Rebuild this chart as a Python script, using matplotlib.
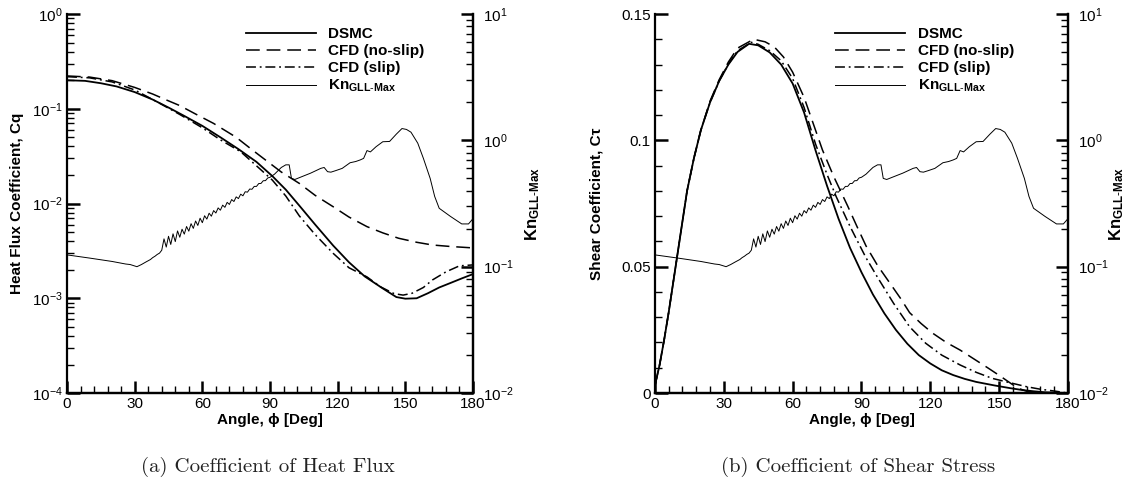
import matplotlib
matplotlib.use('Agg')
import matplotlib.pyplot as plt
from matplotlib.ticker import MultipleLocator, LogLocator, FixedLocator, FixedFormatter

plt.rcParams['font.family'] = ['Liberation Sans', 'DejaVu Sans']
plt.rcParams['mathtext.fontset'] = 'custom'
plt.rcParams['mathtext.rm'] = 'Liberation Sans'
plt.rcParams['mathtext.bf'] = 'Liberation Sans:bold'
plt.rcParams['mathtext.it'] = 'Liberation Sans:italic'

# ---- heat flux coefficient (left) ----
cq_dsmc_ang = [0, 8, 15, 22, 30, 38, 45, 52, 60, 68, 76, 84, 91, 97, 103, 110, 118, 125, 132,
               140, 146, 150, 155, 160, 165, 170, 175, 180]
cq_dsmc = [0.200, 0.197, 0.186, 0.172, 0.150, 0.125, 0.103, 0.084, 0.066, 0.050, 0.0375, 0.0275,
           0.0195, 0.0140, 0.0095, 0.0060, 0.0036, 0.0024, 0.0017, 0.00127, 0.00103, 0.00099,
           0.00100, 0.00113, 0.00130, 0.00145, 0.00162, 0.00180]

cq_noslip_ang = [0, 10, 20, 30, 38, 44, 50, 57, 65, 75, 82, 88, 95, 103, 110, 118, 125, 133,
                 140, 147, 155, 162, 170, 175, 180]
cq_noslip = [0.222, 0.216, 0.198, 0.168, 0.143, 0.124, 0.108, 0.088, 0.070, 0.050, 0.037, 0.0288,
             0.0215, 0.0163, 0.0122, 0.00925, 0.0072, 0.0057, 0.0049, 0.0043, 0.0039, 0.00365,
             0.00352, 0.00346, 0.0034]

cq_slip_ang = [0, 10, 20, 30, 40, 50, 60, 68, 77, 84, 91, 97, 103, 110, 118, 125, 133, 139, 145,
               149, 153, 158, 162, 168, 174, 180]
cq_slip = [0.218, 0.212, 0.192, 0.158, 0.118, 0.087, 0.063, 0.047, 0.0352, 0.0250, 0.0177,
           0.0120, 0.0074, 0.0047, 0.00298, 0.0021, 0.00168, 0.00132, 0.00112, 0.00108, 0.00113,
           0.00130, 0.00156, 0.00190, 0.00220, 0.00225]

# ---- shear coefficient (right) ----
ct_dsmc_ang = [0, 2, 4, 6, 8, 10, 12, 14, 17, 20, 24, 28, 32, 36, 41, 45, 50, 55, 60, 65, 70, 75,
               80, 85, 90, 95, 100, 105, 110, 115, 120, 125, 130, 135, 140, 148, 155, 160, 165,
               170, 180]
ct_dsmc = [0.003, 0.011, 0.021, 0.032, 0.044, 0.056, 0.068, 0.080, 0.093, 0.104, 0.115, 0.1235,
           0.1300, 0.1350, 0.1382, 0.1376, 0.1348, 0.1300, 0.1225, 0.1110, 0.0960, 0.0820,
           0.0690, 0.0575, 0.0478, 0.0390, 0.0315, 0.0250, 0.0195, 0.0150, 0.0117, 0.0090,
           0.0071, 0.0056, 0.0044, 0.0030, 0.0019, 0.0012, 0.0007, 0.0003, 0.0]

ct_noslip_ang = [0, 2, 4, 6, 8, 10, 12, 14, 17, 20, 24, 28, 32, 36, 43, 48, 52, 56, 60, 65, 70, 73,
                 78, 84, 88, 92, 97, 102, 107, 111, 116, 121, 127, 133, 139, 145, 150, 154, 158,
                 162, 166, 170, 180]
ct_noslip = [0.003, 0.011, 0.021, 0.032, 0.044, 0.056, 0.068, 0.080, 0.093, 0.104, 0.1155, 0.124,
             0.1310, 0.1365, 0.1400, 0.1390, 0.1370, 0.1330, 0.1270, 0.1170, 0.1040, 0.0962,
             0.0855, 0.0740, 0.0660, 0.0582, 0.0505, 0.0440, 0.0375, 0.0318, 0.0275, 0.0237,
             0.0200, 0.0170, 0.0135, 0.0100, 0.0070, 0.0045, 0.0020, 0.0007, 0.0002, 0.0, 0.0]

ct_slip_ang = [0, 2, 4, 6, 8, 10, 12, 14, 17, 20, 24, 28, 32, 36, 42, 45, 50, 55, 60, 65, 70, 75,
               79, 85, 88, 92, 97, 104, 111, 118, 125, 133, 140, 147, 156, 162, 168, 174, 180]
ct_slip = [0.003, 0.011, 0.021, 0.032, 0.044, 0.056, 0.068, 0.080, 0.093, 0.104, 0.115, 0.1235,
           0.1302, 0.1355, 0.1388, 0.1380, 0.1355, 0.1315, 0.1245, 0.1130, 0.0985, 0.0865,
           0.0777, 0.0660, 0.0606, 0.0535, 0.0458, 0.0355, 0.0262, 0.0197, 0.0150, 0.0111,
           0.0082, 0.0058, 0.0038, 0.0025, 0.0015, 0.0008, 0.0]

# ---- max GLL Knudsen number (same on both panels) ----
kn_ang = [0, 10, 20, 26, 28, 31, 33, 35, 37, 38, 39, 40, 41,
          42, 43, 44, 45, 46, 47, 48, 49, 50, 51, 52, 53, 54, 55, 56, 57, 58, 59, 60, 61, 62, 63,
          64, 65, 66, 67, 68, 69, 70, 71, 72, 73, 74, 75, 76, 77, 78, 79, 80, 81, 82, 83, 84, 85,
          86, 87, 88, 89, 90,
          92, 95, 97, 98.5, 99.5, 101, 104, 108, 112.5, 114, 115.5, 117, 119, 122, 125.5, 128,
          130, 131.5, 133, 134.5, 137, 140, 143, 146, 148.5, 150.5, 152.5, 155.5, 158, 161, 163,
          165, 170, 175, 178, 180]
kn_max = [0.124, 0.117, 0.110, 0.105, 0.104, 0.100, 0.104, 0.109, 0.114, 0.118, 0.121, 0.125, 0.128,
          0.135, 0.166, 0.143, 0.174, 0.150, 0.182, 0.158, 0.192, 0.171, 0.198, 0.181, 0.208, 0.191,
          0.219, 0.201, 0.230, 0.212, 0.242, 0.223, 0.253, 0.238, 0.265, 0.251, 0.278, 0.266, 0.292,
          0.280, 0.307, 0.295, 0.323, 0.311, 0.340, 0.328, 0.357, 0.346, 0.375, 0.364, 0.392, 0.389,
          0.412, 0.410, 0.432, 0.432, 0.455, 0.456, 0.479, 0.480, 0.504, 0.510,
          0.54, 0.61, 0.64, 0.64, 0.50, 0.49, 0.515, 0.55, 0.60, 0.61, 0.565, 0.56, 0.575, 0.60,
          0.665, 0.68, 0.70, 0.72, 0.83, 0.81, 0.89, 0.975, 0.98, 1.12, 1.24, 1.22, 1.16, 0.95,
          0.72, 0.50, 0.36, 0.29, 0.25, 0.218, 0.218, 0.24]

kn_label = r'$\mathbf{Kn}_{\mathbf{GLL\text{-}Max}}$'
leg_labels = ['DSMC', 'CFD (no-slip)', 'CFD (slip)', kn_label]

dash = (9, 4.5)
dashdot = (6.5, 2.5, 1.2, 2.5)

fig = plt.figure(figsize=(11.3, 4.95), dpi=100)
axL = fig.add_axes([0.0593, 0.206, 0.3593, 0.7657])
axR = fig.add_axes([0.5796, 0.206, 0.3655, 0.7657])


def style(ax, ax2):
    ax.set_xlim(0, 180)
    ax.xaxis.set_major_locator(MultipleLocator(30))
    ax.xaxis.set_minor_locator(MultipleLocator(6))
    for a in (ax, ax2):
        a.spines['top'].set_visible(False)
        for s in a.spines.values():
            s.set_linewidth(1.6)
        a.tick_params(which='major', direction='in', length=9, width=1.8, labelsize=11, pad=3)
        a.tick_params(which='minor', direction='in', length=5, width=1.0)
    ax2.tick_params(axis='y', which='major', pad=7)
    ax.tick_params(axis='y', right=False, which='both')
    ax2.spines['left'].set_visible(False)
    ax2.set_yscale('log')
    ax2.set_ylim(1e-2, 1e1)
    ax2.yaxis.set_minor_locator(LogLocator(subs=range(2, 10)))
    ax.set_xlabel('Angle, ϕ [Deg]', fontsize=11, fontweight='bold', labelpad=1)


# left panel
axL.set_yscale('log')
axL.set_ylim(1e-4, 1e0)
axL.yaxis.set_minor_locator(LogLocator(subs=range(2, 10)))
axL2 = axL.twinx()
style(axL, axL2)
l1, = axL.plot(cq_dsmc_ang, cq_dsmc, color='black', lw=1.3)
l2, = axL.plot(cq_noslip_ang, cq_noslip, color='black', lw=1.1, dashes=dash)
l3, = axL.plot(cq_slip_ang, cq_slip, color='black', lw=1.1, dashes=dashdot)
l4, = axL2.plot(kn_ang, kn_max, color='black', lw=0.7)
axL.set_ylabel('Heat Flux Coefficient, Cq', fontsize=11, fontweight='bold')
axL.yaxis.set_label_coords(-0.105, 0.5)
axL2.set_ylabel(kn_label, fontsize=12)
axL2.yaxis.set_label_coords(1.125, 0.5)
axL2.legend([l1, l2, l3, l4], leg_labels, loc='upper left', bbox_to_anchor=(0.44, 0.966),
            frameon=False, handlelength=4.6, handletextpad=0.8, labelspacing=0.2,
            borderpad=0, borderaxespad=0, prop={'weight': 'bold', 'size': 11})

# right panel
axR.set_ylim(0, 0.15)
axR.yaxis.set_major_locator(FixedLocator([0, 0.05, 0.1, 0.15]))
axR.yaxis.set_major_formatter(FixedFormatter(['0', '0.05', '0.1', '0.15']))
axR.yaxis.set_minor_locator(MultipleLocator(0.01))
axR2 = axR.twinx()
style(axR, axR2)
r1, = axR.plot(ct_dsmc_ang, ct_dsmc, color='black', lw=1.3)
r2, = axR.plot(ct_noslip_ang, ct_noslip, color='black', lw=1.1, dashes=dash)
r3, = axR.plot(ct_slip_ang, ct_slip, color='black', lw=1.1, dashes=dashdot)
r4, = axR2.plot(kn_ang, kn_max, color='black', lw=0.7)
axR.set_ylabel('Shear Coefficient, Cτ', fontsize=11, fontweight='bold')
axR.yaxis.set_label_coords(-0.125, 0.5)
axR2.set_ylabel(kn_label, fontsize=12)
axR2.yaxis.set_label_coords(1.095, 0.5)
axR2.legend([r1, r2, r3, r4], leg_labels, loc='upper left', bbox_to_anchor=(0.436, 0.966),
            frameon=False, handlelength=4.6, handletextpad=0.8, labelspacing=0.2,
            borderpad=0, borderaxespad=0, prop={'weight': 'bold', 'size': 11})

fig.text(0.237, 0.057, '(a) Coefficient of Heat Flux', fontsize=15, family='cmr10',
         ha='center', va='center', color='#222222')
fig.text(0.759, 0.057, '(b) Coefficient of Shear Stress', fontsize=15, family='cmr10',
         ha='center', va='center', color='#222222')

fig.savefig('out.png', dpi=100)
